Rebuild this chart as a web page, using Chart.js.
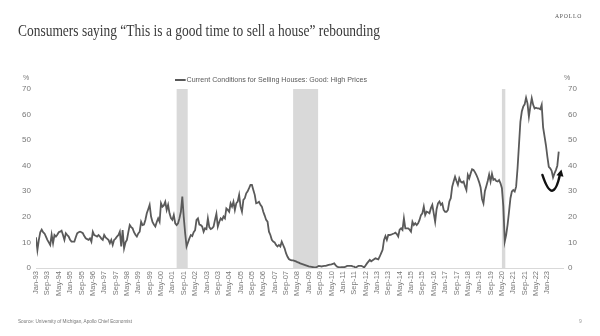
<!DOCTYPE html>
<html>
<head>
<meta charset="utf-8">
<script src="https://cdn.jsdelivr.net/npm/chart.js@4.4.0/dist/chart.umd.min.js"></script>
<style>
  html, body { margin: 0; padding: 0; background: #fff; }
  #wrap { position: relative; width: 600px; height: 336px; overflow: hidden; }
  #chart { position: absolute; left: 0; top: 0; }
  .fit { position: absolute; white-space: nowrap; transform-origin: 0 50%; }
  #title { left: 18px; top: 21px; font-family: "Liberation Serif", serif; font-size: 17px; color: #3a3a3a; }
  #brand { left: 555px; top: 13px; font-family: "Liberation Serif", serif; font-size: 6px; letter-spacing: 0.8px; color: #555; }
  #legend { left: 175px; top: 75px; font-family: "Liberation Sans", Arial, sans-serif; font-size: 8px; color: #595959; }
  #legend i { display: inline-block; width: 12px; height: 2px; background: #595959; vertical-align: middle; margin-right: 1px; }
  .pct { position: absolute; top: 74px; font-family: "Liberation Sans", Arial, sans-serif; font-size: 7px; color: #777; }
  #source { left: 18px; top: 318px; font-family: "Liberation Sans", Arial, sans-serif; font-size: 5px; color: #777; }
  #page { position: absolute; left: 579px; top: 318px; font-family: "Liberation Sans", Arial, sans-serif; font-size: 5px; color: #999; }
</style>
</head>
<body>
<div id="wrap">
  <canvas id="chart" width="600" height="336"></canvas>
  <div id="title" class="fit" data-w="362">Consumers saying “This is a good time to sell a house” rebounding</div>
  <div id="brand" class="fit" data-w="27">APOLLO</div>
  <div id="legend" class="fit" data-w="192"><i></i>Current Conditions for Selling Houses: Good: High Prices</div>
  <div class="pct" style="left:23px">%</div>
  <div class="pct" style="left:564px">%</div>
  <div id="source" class="fit" data-w="114">Source: University of Michigan, Apollo Chief Economist</div>
  <div id="page">9</div>
</div>
<script>
// Monthly values, Jan-93 onwards (% saying good time to sell: high prices)
const goodTimeToSell = [
  12, 7, 11, 14, 15, 14, 13.5, 12.3, 11, 10, 9, 13,            // 1993
  9.7, 12.9, 12.3, 13, 14, 14.2, 14.6, 12.9, 11, 13.6, 12.9, 12.3, // 1994
  11, 10.3, 10.3, 10.3, 12, 13.6, 14, 14.2, 14, 13.6, 12.5, 11.6,  // 1995
  11.3, 11, 11.6, 10.3, 14.2, 12.9, 12.6, 12.3, 12.9, 12.3, 11.5, 11, // 1996
  12.9, 12, 11.5, 11, 9.7, 11, 9, 11, 11.5, 12.3, 12.9, 14.2,     // 1997
  8.4, 14.8, 7.7, 10, 11, 14, 16.8, 16, 15.5, 14, 13, 12.3,       // 1998
  13.5, 14.2, 18.1, 16.8, 17, 18.8, 21.4, 23, 24.7, 20.1, 18, 17,  // 1999
  16.2, 18, 19.4, 18.1, 25.3, 24, 24.5, 25.9, 22.7, 24.7, 21.4, 19.5, // 2000
  18.8, 20.7, 17.5, 16.8, 17.5, 19.5, 22, 27.9, 20, 13.6, 8.4, 10, // 2001
  11.6, 12.9, 12.5, 14, 14.8, 18.8, 19.4, 17, 16.8, 16.2, 14.2, 15.5, // 2002
  15.2, 19.4, 16, 15.2, 15.5, 16.2, 18.8, 21.2, 16.2, 18, 19.4, 18.8, // 2003
  20.1, 19.4, 23.3, 22.7, 22, 25.3, 24, 25.9, 22.7, 25.3, 26, 28.6, // 2004
  24, 22, 26.6, 27.3, 29.2, 30, 31.2, 32.5, 32.5, 30.5, 28.6, 25.3, // 2005
  25.5, 25.9, 24.7, 24, 22, 20.5, 18.8, 18.1, 14.2, 12.9, 11, 10.3, // 2006
  10, 9, 8.4, 9, 8.4, 10.3, 9, 7.7, 5.8, 4.5, 3.5, 3.2,          // 2007
  3, 3, 2.8, 2.6, 2.3, 2.1, 1.8, 1.6, 1.4, 1.2, 1, 0.8,          // 2008
  0.6, 0.5, 0.4, 0.3, 0.2, 0.2, 0.5, 0.8, 0.7, 0.6, 0.7, 0.8,    // 2009
  0.8, 1, 1.2, 1.3, 1.4, 1.6, 1.8, 1, 0.5, 0.3, 0.2, 0.3,        // 2010
  0.3, 0.3, 0.5, 0.8, 0.8, 0.8, 0.8, 0.6, 0.5, 0.1, 0.5, 0.8,    // 2011
  0.8, 0.8, 0.6, 0.2, 1, 1.8, 2.5, 3.2, 2.6, 3, 3.4, 3.8,        // 2012
  3.6, 3.4, 4.5, 5.8, 7.1, 11, 12.5, 11, 12.9, 12.9, 13, 13.3,   // 2013
  13.5, 13.8, 13.3, 12.3, 15, 15.5, 14.9, 19.4, 15.5, 15.5, 15.5, 15, // 2014
  14.2, 18.1, 16.8, 17.5, 16.8, 17.5, 18.8, 20.7, 21.4, 24, 20.7, 22, // 2015
  21.8, 21.4, 23.4, 24.7, 21.4, 18.1, 23, 25.3, 26, 24.7, 25.3, 22.7, // 2016
  22, 22, 22.7, 26, 27.3, 31.8, 33.8, 35.7, 34, 32.5, 35.1, 33.8,  // 2017
  33.4, 33.8, 32, 30.5, 36.4, 35.1, 37, 38.6, 38.3, 37.5, 36.4, 35.1, // 2018
  33.5, 31.5, 27, 25.3, 30, 32, 34, 36.5, 33.8, 36.8, 34.5, 34.8,  // 2019
  34, 33.8, 34.4, 33.1, 31.2, 24, 10.4, 13, 17, 22, 27.3, 29.9,   // 2020
  30.5, 29.9, 31.8, 39, 48.1, 57.2, 61.2, 63.1, 64, 66.6, 64.4, 59.2, // 2021
  63.1, 66.4, 63.8, 62.4, 62.7, 62.4, 62.4, 62.1, 63.8, 55, 51.5, 48, // 2022
  43.5, 39.6, 39, 38, 35.4, 37, 38.3, 40, 45.5                     // 2023
];

const tickLabels = [
  "Jan-93", "Sep-93", "May-94", "Jan-95", "Sep-95", "May-96", "Jan-97", "Sep-97",
  "May-98", "Jan-99", "Sep-99", "May-00", "Jan-01", "Sep-01", "May-02", "Jan-03",
  "Sep-03", "May-04", "Jan-05", "Sep-05", "May-06", "Jan-07", "Sep-07", "May-08",
  "Jan-09", "Sep-09", "May-10", "Jan-11", "Sep-11", "May-12", "Jan-13", "Sep-13",
  "May-14", "Jan-15", "Sep-15", "May-16", "Jan-17", "Sep-17", "May-18", "Jan-19",
  "Sep-19", "May-20", "Jan-21", "Sep-21", "May-22", "Jan-23"
];
const tickEvery = 8; // months between labels

// recession shading, in months since Jan-93
const recessions = [[99, 106.8], [181, 198.6], [328, 330.4]];

// hand-drawn rebound arrow (month, %)
const arrowPts = [[356.5, 36.4], [363.5, 30.5], [369.6, 37.8]];

const yTicks = [0, 10, 20, 30, 40, 50, 60, 70];

// fit overlay texts to their measured widths
document.querySelectorAll(".fit").forEach(el => {
  const w = el.getBoundingClientRect().width;
  el.style.transform = `scaleX(${el.dataset.w / w})`;
});

const shading = {
  id: "shading",
  beforeDatasetsDraw(chart) {
    const { ctx, chartArea, scales } = chart;
    ctx.save();
    ctx.fillStyle = "#d9d9d9";
    recessions.forEach(([a, b]) => {
      const x0 = scales.x.getPixelForValue(a);
      const x1 = scales.x.getPixelForValue(b);
      ctx.fillRect(x0, chartArea.top, x1 - x0, chartArea.bottom - chartArea.top);
    });
    ctx.restore();
  }
};

const arrow = {
  id: "arrow",
  afterDatasetsDraw(chart) {
    const { ctx, scales } = chart;
    const p = arrowPts.map(([m, v]) => [scales.x.getPixelForValue(m), scales.y.getPixelForValue(v)]);
    // control point so the curve passes through the middle point
    const cx = 2 * p[1][0] - (p[0][0] + p[2][0]) / 2;
    const cy = 2 * p[1][1] - (p[0][1] + p[2][1]) / 2;
    ctx.save();
    ctx.strokeStyle = "#111";
    ctx.fillStyle = "#111";
    ctx.lineWidth = 2.4;
    ctx.lineCap = "round";
    ctx.beginPath();
    ctx.moveTo(p[0][0], p[0][1]);
    ctx.quadraticCurveTo(cx, cy, p[2][0] - 1, p[2][1] + 3);
    ctx.stroke();
    const ang = Math.atan2(p[2][1] - cy, p[2][0] - cx);
    const tx = p[2][0], ty = p[2][1];
    ctx.beginPath();
    ctx.moveTo(tx + Math.cos(ang) * 2, ty + Math.sin(ang) * 2);
    ctx.lineTo(tx + Math.cos(ang + 2.5) * 6, ty + Math.sin(ang + 2.5) * 6);
    ctx.lineTo(tx + Math.cos(ang - 2.5) * 6, ty + Math.sin(ang - 2.5) * 6);
    ctx.closePath();
    ctx.fill();
    ctx.restore();
  }
};

const tickFont = { family: "'Liberation Sans', Arial, sans-serif", size: 8 };
const yAxis = (pos, w) => ({
  type: "linear",
  position: pos,
  min: 0,
  max: 70,
  afterBuildTicks: s => { s.ticks = yTicks.map(v => ({ value: v })); },
  afterFit: s => { s.width = w; },
  grid: { display: false, drawTicks: false },
  border: { display: false },
  ticks: { color: "#777", font: tickFont, padding: 5 }
});

new Chart(document.getElementById("chart"), {
  type: "line",
  data: {
    datasets: [{
      data: goodTimeToSell.map((v, i) => ({ x: i, y: v })),
      borderColor: "#5a5a5a",
      borderWidth: 1.8,
      pointRadius: 0,
      tension: 0
    }]
  },
  options: {
    responsive: false,
    animation: false,
    layout: { padding: { top: 89, left: 0, right: 0, bottom: 0 } },
    plugins: { legend: { display: false }, tooltip: { enabled: false } },
    scales: {
      x: {
        type: "linear",
        min: 0,
        max: 371,
        afterBuildTicks: s => { s.ticks = tickLabels.map((_, i) => ({ value: i * tickEvery })); },
        afterFit: s => { s.height = 68; },
        grid: { display: false, drawTicks: false },
        border: { display: true, color: "#d9d9d9", width: 1 },
        ticks: {
          color: "#777",
          font: { family: "'Liberation Sans', Arial, sans-serif", size: 7.5 },
          minRotation: 90,
          maxRotation: 90,
          autoSkip: false,
          padding: 3,
          callback: v => tickLabels[v / tickEvery]
        }
      },
      y: yAxis("left", 36),
      y2: yAxis("right", 37)
    }
  },
  plugins: [shading, arrow]
});
</script>
</body>
</html>
